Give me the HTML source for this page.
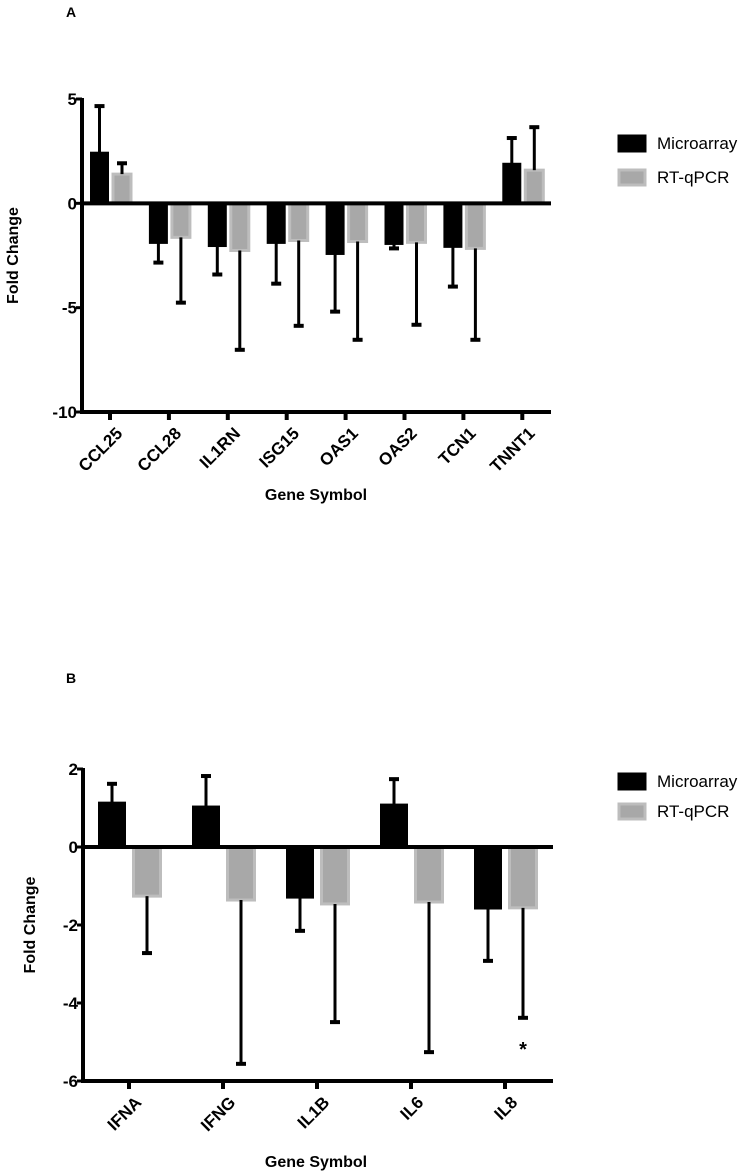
<!DOCTYPE html>
<html><head><meta charset="utf-8"><style>
body{margin:0;background:#fff;}
svg{display:block;font-family:"Liberation Sans",Arial,sans-serif;}
</style></head><body>
<svg id="fig" width="755" height="1173" viewBox="0 0 755 1173" xmlns="http://www.w3.org/2000/svg">
<text x="66" y="17" font-size="14" font-weight="bold">A</text>
<text x="66" y="683" font-size="14" font-weight="bold">B</text>
<g id="chartA"></g>
<g id="chartB"></g>
</svg>
<script>
const catsA = ["CCL25","CCL28","IL1RN","ISG15","OAS1","OAS2","TCN1","TNNT1"];
const microA = [2.45,-1.92,-2.07,-1.92,-2.45,-1.97,-2.11,1.92];
const microErrA = [4.66,-2.84,-3.41,-3.85,-5.19,-2.16,-3.99,3.13];
const qpcrA = [1.4,-1.63,-2.26,-1.78,-1.83,-1.87,-2.16,1.59];
const qpcrErrA = [1.92,-4.76,-7.02,-5.87,-6.54,-5.82,-6.54,3.65];
const ticksA = [5,0,-5,-10];

const catsB = ["IFNA","IFNG","IL1B","IL6","IL8"];
const microB = [1.15,1.05,-1.31,1.10,-1.59];
const microErrB = [1.62,1.82,-2.15,1.74,-2.92];
const qpcrB = [-1.26,-1.36,-1.46,-1.41,-1.56];
const qpcrErrB = [-2.72,-5.56,-4.49,-5.26,-4.38];
const ticksB = [2,0,-2,-4,-6];
const sigB = ["","","","","*"];

const NS="http://www.w3.org/2000/svg";
function mk(parent,tag,attrs,txt){const e=document.createElementNS(NS,tag);for(const k in attrs)e.setAttribute(k,attrs[k]);if(txt!==undefined)e.textContent=txt;parent.appendChild(e);return e;}

function draw(g,cfg){
  const y=v=>cfg.y0+(cfg.yMax-v)*(cfg.y1-cfg.y0)/(cfg.yMax-cfg.yMin);
  const tx=i=>cfg.tick0+cfg.tickStep*i;
  const bw=cfg.bw;
  function bar(cx,v,err,isGrey,name){
    const top=Math.min(y(v),y(0)),h=Math.abs(y(v)-y(0));
    const r=mk(g,'rect',{x:cx-bw/2,y:top,width:bw,height:h,fill:isGrey?'#a8a8a8':'#000',stroke:isGrey?'#bdbdbd':'#000','stroke-width':isGrey?3:1});
    
    
    const l=mk(g,'line',{x1:cx,x2:cx,y1:y(v),y2:y(err),stroke:'#000','stroke-width':3});
    
    
    const c=mk(g,'line',{x1:cx-5,x2:cx+5,y1:y(err),y2:y(err),stroke:'#000','stroke-width':4});
    
    
  }
  cfg.cats.forEach((c,i)=>{
    bar(tx(i)+cfg.offM,cfg.m[i],cfg.me[i],false,'bar-microarray-'+c.toLowerCase());
    bar(tx(i)+cfg.offQ,cfg.q[i],cfg.qe[i],true,'bar-rtqpcr-'+c.toLowerCase());
    const tk=mk(g,'line',{x1:tx(i),x2:tx(i),y1:y(cfg.yMin),y2:y(cfg.yMin)+8,stroke:'#000','stroke-width':4});
    
    
    const lx=tx(i)+5,ly=y(cfg.yMin)+14;
    const t=mk(g,'text',{x:lx,y:ly,'font-size':17,'font-weight':'bold','text-anchor':'end',transform:`rotate(-45 ${lx} ${ly})`,'dominant-baseline':'hanging'},c);
    
    
    if(cfg.sig&&cfg.sig[i]){const s=mk(g,'text',{x:tx(i)+cfg.offQ,y:y(cfg.qe[i])+38,'font-size':20,'font-weight':'bold','text-anchor':'middle'},cfg.sig[i]);
      
      }
  });
  const z=mk(g,'line',{x1:cfg.ax,x2:cfg.xEnd,y1:y(0),y2:y(0),stroke:'#000','stroke-width':4});
  
  
  const xa=mk(g,'line',{x1:cfg.ax-2,x2:cfg.xEnd,y1:y(cfg.yMin),y2:y(cfg.yMin),stroke:'#000','stroke-width':4});
  
  
  const ya=mk(g,'line',{x1:cfg.ax,x2:cfg.ax,y1:y(cfg.yMax)-1,y2:y(cfg.yMin)+2,stroke:'#000','stroke-width':4});
  
  
  cfg.ticks.forEach(v=>{
    const tk=mk(g,'line',{x1:cfg.ax-6,x2:cfg.ax,y1:y(v),y2:y(v),stroke:'#000','stroke-width':3});
    
    
    const t=mk(g,'text',{x:cfg.ax-5,y:y(v)+6,'font-size':17,'font-weight':'bold','text-anchor':'end'},String(v));
    
    
  });
  const yt=mk(g,'text',{x:cfg.ytx,y:(cfg.y0+cfg.y1)/2,'font-size':16,'font-weight':'bold','text-anchor':'middle',transform:`rotate(-90 ${cfg.ytx} ${(cfg.y0+cfg.y1)/2})`},'Fold Change');
  
  
  const xt=mk(g,'text',{x:cfg.xtX,y:cfg.xtY,'font-size':16,'font-weight':'bold','text-anchor':'middle'},'Gene Symbol');
  
  
  [['Microarray','#000','#000'],['RT-qPCR','#a8a8a8','#bdbdbd']].forEach((L,k)=>{
    const ly=cfg.legY+k*cfg.legStep;
    const s=mk(g,'rect',{x:619,y:ly-7,width:26,height:15,fill:L[1],stroke:L[2],'stroke-width':3});
    
    
    const t=mk(g,'text',{x:657,y:ly+6,'font-size':17},L[0]);
    
    
  });
}
draw(document.getElementById('chartA'),{cats:catsA,m:microA,me:microErrA,q:qpcrA,qe:qpcrErrA,ticks:ticksA,
  yMax:5,yMin:-10,y0:99,y1:412,ax:82,xEnd:551,tick0:110,tickStep:58.9,offM:-10.5,offQ:12,bw:18,
  ytx:18,xtX:316,xtY:500,legY:143,legStep:34});
draw(document.getElementById('chartB'),{cats:catsB,m:microB,me:microErrB,q:qpcrB,qe:qpcrErrB,ticks:ticksB,sig:sigB,
  yMax:2,yMin:-6,y0:769,y1:1081,ax:83,xEnd:553,tick0:129,tickStep:94,offM:-17,offQ:18,bw:27,
  ytx:35,xtX:316,xtY:1167,legY:781,legStep:30});
</script>
</body></html>
